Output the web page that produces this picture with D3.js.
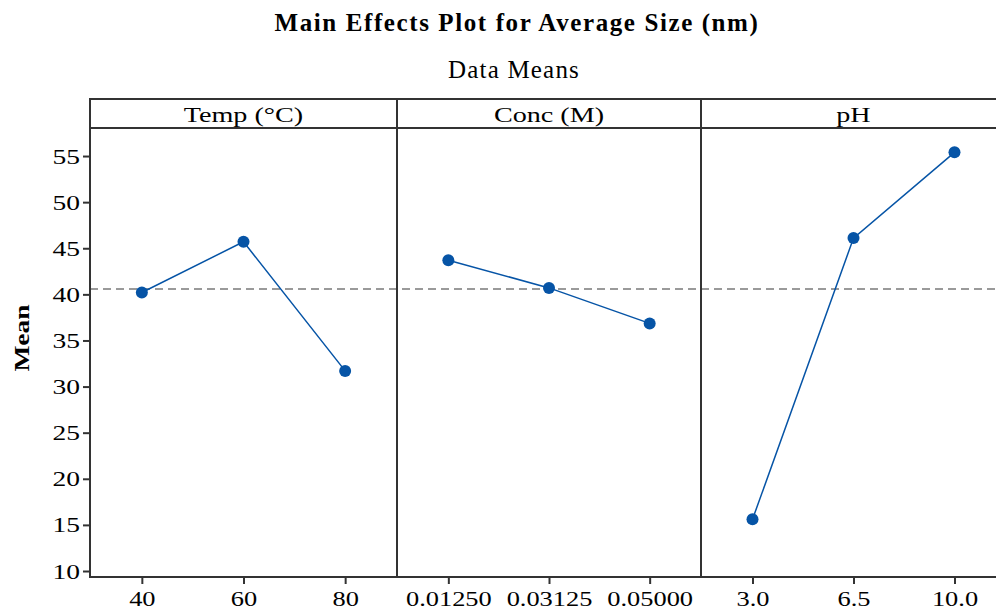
<!DOCTYPE html>
<html>
<head>
<meta charset="utf-8">
<script src="https://cdn.jsdelivr.net/npm/d3@7"></script>
<style>
  html, body { margin: 0; padding: 0; background: #fff; }
  svg { display: block; }
  text { font-family: "Liberation Serif", "Times New Roman", serif; fill: #000; }
</style>
</head>
<body>
<script>
// Main effects: mean response at each level of each factor
const factorNames = ["Temp (°C)", "Conc (M)", "pH"];
const tempLevels = ["40", "60", "80"];
const tempMeans = [40.2, 45.7, 31.7];
const concLevels = ["0.01250", "0.03125", "0.05000"];
const concMeans = [43.7, 40.7, 36.85];
const phLevels = ["3.0", "6.5", "10.0"];
const phMeans = [15.6, 46.1, 55.4];
const grandMean = 40.57;
const yTicks = [10, 15, 20, 25, 30, 35, 40, 45, 50, 55];

const titleText = "Main Effects Plot for Average Size (nm)";
const subtitleText = "Data Means";
const yLabel = "Mean";

const W = 996, H = 611;
const frame = { left: 90, top: 99, strip: 128, bottom: 577, right: 1006 };
const panelEdges = [90, 397, 701, 1006];
const blue = "#0654a6";
const frameColor = "#333";

const panels = [
  { name: factorNames[0], levels: tempLevels, means: tempMeans },
  { name: factorNames[1], levels: concLevels, means: concMeans },
  { name: factorNames[2], levels: phLevels, means: phMeans }
];

const svg = d3.select("body").append("svg")
  .attr("width", W).attr("height", H);

const y = d3.scaleLinear().domain([9.35, 58.04]).range([frame.bottom, frame.strip]);

// text placed at (x, y) and stretched horizontally by sx
function stretchedText(g, x, yPos, str, size, sx, weight) {
  return g.append("text")
    .attr("transform", `translate(${x},${yPos}) scale(${sx},1)`)
    .attr("text-anchor", "middle")
    .style("font-size", size + "px")
    .style("font-weight", weight || "normal")
    .text(str);
}

// titles
svg.append("text")
  .attr("x", 517).attr("y", 31)
  .attr("text-anchor", "middle")
  .style("font-size", "25px")
  .style("font-weight", "bold")
  .style("letter-spacing", "1.6px")
  .text(titleText);
svg.append("text")
  .attr("x", 514).attr("y", 78)
  .attr("text-anchor", "middle")
  .style("font-size", "25px")
  .style("letter-spacing", "1.2px")
  .text(subtitleText);

// y-axis label
svg.append("text")
  .attr("transform", `translate(29,${(frame.top + frame.bottom) / 2}) rotate(-90) scale(1.25,1)`)
  .attr("text-anchor", "middle")
  .style("font-size", "22px")
  .style("font-weight", "bold")
  .text(yLabel);

// grand mean reference line
svg.append("line")
  .attr("x1", frame.left).attr("x2", frame.right)
  .attr("y1", y(grandMean)).attr("y2", y(grandMean))
  .attr("stroke", "#9a9a9a").attr("stroke-width", 2)
  .attr("stroke-dasharray", "8,5");

// y axis
const yAxis = svg.append("g")
  .attr("transform", `translate(${frame.left},0)`)
  .call(d3.axisLeft(y).tickValues(yTicks).tickSize(7).tickPadding(3));
yAxis.select(".domain").remove();
yAxis.selectAll(".tick line").attr("stroke", frameColor).attr("stroke-width", 2);
yAxis.selectAll(".tick text")
  .attr("x", 0)
  .attr("transform", "translate(-10,0) scale(1.25,1)")
  .style("font-size", "22px")
  .style("font-family", "Liberation Serif, serif")
  .attr("fill", "#000");

// panels
panels.forEach((p, i) => {
  const x0 = panelEdges[i], x1 = panelEdges[i + 1];
  const x = d3.scalePoint().domain(p.levels).range([x0, x1]).padding(0.51);
  const g = svg.append("g");

  // strip label
  stretchedText(g, (x0 + x1) / 2, 122, p.name, 22, 1.28);

  // x axis
  const xAxis = g.append("g")
    .attr("transform", `translate(0,${frame.bottom})`)
    .call(d3.axisBottom(x).tickSize(7).tickPadding(7));
  xAxis.select(".domain").remove();
  xAxis.selectAll(".tick line").attr("stroke", frameColor).attr("stroke-width", 2);
  xAxis.selectAll(".tick text")
    .attr("y", 0).attr("dy", 0)
    .attr("transform", "translate(0,29) scale(1.2,1)")
    .style("font-size", "22px")
    .style("font-family", "Liberation Serif, serif")
    .attr("fill", "#000");

  const pts = p.levels.map((l, k) => ({ l, v: p.means[k] }));
  g.append("path")
    .datum(pts)
    .attr("fill", "none")
    .attr("stroke", blue)
    .attr("stroke-width", 1.5)
    .attr("d", d3.line().x(d => x(d.l)).y(d => y(d.v)));
  g.selectAll("circle").data(pts).join("circle")
    .attr("cx", d => x(d.l)).attr("cy", d => y(d.v))
    .attr("r", 6).attr("fill", blue);
});

// frame: outer box, strip separator, panel dividers
const fr = svg.append("g").attr("stroke", frameColor).attr("stroke-width", 2).attr("fill", "none");
fr.append("rect")
  .attr("x", frame.left).attr("y", frame.top)
  .attr("width", frame.right - frame.left).attr("height", frame.bottom - frame.top);
fr.append("line")
  .attr("x1", frame.left).attr("x2", frame.right)
  .attr("y1", frame.strip).attr("y2", frame.strip);
panelEdges.slice(1, 3).forEach(px => {
  fr.append("line").attr("x1", px).attr("x2", px)
    .attr("y1", frame.top).attr("y2", frame.bottom);
});
</script>
</body>
</html>
